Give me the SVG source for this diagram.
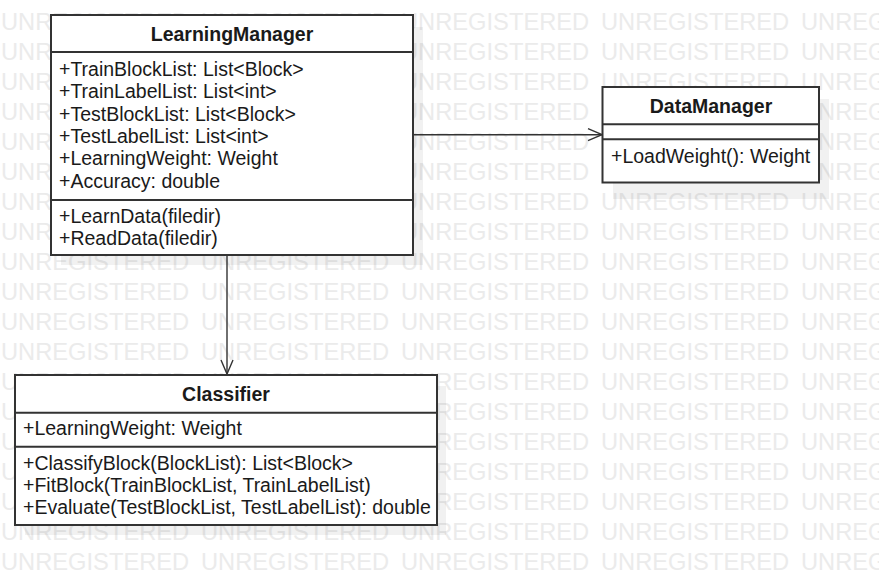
<svg xmlns="http://www.w3.org/2000/svg" xmlns:xlink="http://www.w3.org/1999/xlink" width="879" height="585" viewBox="0 0 879 585">
<style>
.wm{font-family:"Liberation Sans",Arial,sans-serif;font-size:23.7px;fill:#ebebeb}
.sh{fill:#000;fill-opacity:0.055}
.box{fill:#fff;stroke:#333;stroke-width:2}
.dv{stroke:#333;stroke-width:2}
.t{font-family:"Liberation Sans",Arial,sans-serif;font-size:19.5px;fill:#1a1a1a}
.h{font-weight:bold;text-anchor:middle}
.edge{stroke:#333;stroke-width:1.4;fill:none}
</style>
<defs>
<marker id="open" viewBox="0 0 16 14" markerWidth="16" markerHeight="14" refX="15" refY="7" orient="auto" markerUnits="userSpaceOnUse">
<path d="M1,1 L15,7 L1,13" fill="none" stroke="#333" stroke-width="1.4"/>
</marker>
<text id="wmr" class="wm"><tspan x="1" y="0">UNREGISTERED</tspan><tspan x="201" y="0">UNREGISTERED</tspan><tspan x="401" y="0">UNREGISTERED</tspan><tspan x="601" y="0">UNREGISTERED</tspan><tspan x="801" y="0">UNREGISTERED</tspan></text>
</defs>
<rect width="879" height="585" fill="#fff"/>
<g id="watermark">
<use xlink:href="#wmr" y="30"/><use xlink:href="#wmr" y="60"/><use xlink:href="#wmr" y="90"/><use xlink:href="#wmr" y="120"/><use xlink:href="#wmr" y="150"/><use xlink:href="#wmr" y="180"/><use xlink:href="#wmr" y="210"/><use xlink:href="#wmr" y="240"/><use xlink:href="#wmr" y="270"/><use xlink:href="#wmr" y="300"/><use xlink:href="#wmr" y="330"/><use xlink:href="#wmr" y="360"/><use xlink:href="#wmr" y="390"/><use xlink:href="#wmr" y="420"/><use xlink:href="#wmr" y="450"/><use xlink:href="#wmr" y="480"/><use xlink:href="#wmr" y="510"/><use xlink:href="#wmr" y="540"/><use xlink:href="#wmr" y="570"/>
</g>
<g id="shadows">
<rect class="sh" x="61" y="27" width="362" height="238"/>
<rect class="sh" x="25" y="386" width="421" height="149"/>
<rect class="sh" x="613" y="99" width="216" height="100"/>
</g>
<g id="connectors">
<line class="edge" x1="413" y1="134.7" x2="602" y2="134.7" marker-end="url(#open)"/>
<line class="edge" x1="227" y1="256" x2="227" y2="374" marker-end="url(#open)"/>
</g>
<g id="LearningManager">
<rect class="box" x="51" y="15" width="362" height="240"/>
<line class="dv" x1="51" y1="52" x2="413" y2="52"/>
<line class="dv" x1="51" y1="200" x2="413" y2="200"/>
<text class="t h" x="232" y="41">LearningManager</text>
<text class="t" x="59" y="76">+TrainBlockList: List&lt;Block&gt;</text>
<text class="t" x="59" y="98.3">+TrainLabelList: List&lt;int&gt;</text>
<text class="t" x="59" y="120.6">+TestBlockList: List&lt;Block&gt;</text>
<text class="t" x="59" y="142.9">+TestLabelList: List&lt;int&gt;</text>
<text class="t" x="59" y="165.2">+LearningWeight: Weight</text>
<text class="t" x="59" y="187.5">+Accuracy: double</text>
<text class="t" x="59" y="222.7">+LearnData(filedir)</text>
<text class="t" x="59" y="245">+ReadData(filedir)</text>
</g>
<g id="DataManager">
<rect class="box" x="602.5" y="87" width="216.5" height="95.5"/>
<line class="dv" x1="602.5" y1="124.3" x2="819" y2="124.3"/>
<line class="dv" x1="602.5" y1="139.3" x2="819" y2="139.3"/>
<text class="t h" x="711" y="113">DataManager</text>
<text class="t" x="611" y="162.5">+LoadWeight(): Weight</text>
</g>
<g id="Classifier">
<rect class="box" x="15" y="375" width="422" height="150"/>
<line class="dv" x1="15" y1="412.7" x2="437" y2="412.7"/>
<line class="dv" x1="15" y1="446.7" x2="437" y2="446.7"/>
<text class="t h" x="226" y="401">Classifier</text>
<text class="t" x="23" y="435">+LearningWeight: Weight</text>
<text class="t" x="23" y="470">+ClassifyBlock(BlockList): List&lt;Block&gt;</text>
<text class="t" x="23" y="492">+FitBlock(TrainBlockList, TrainLabelList)</text>
<text class="t" x="23" y="514">+Evaluate(TestBlockList, TestLabelList): double</text>
</g>
</svg>
